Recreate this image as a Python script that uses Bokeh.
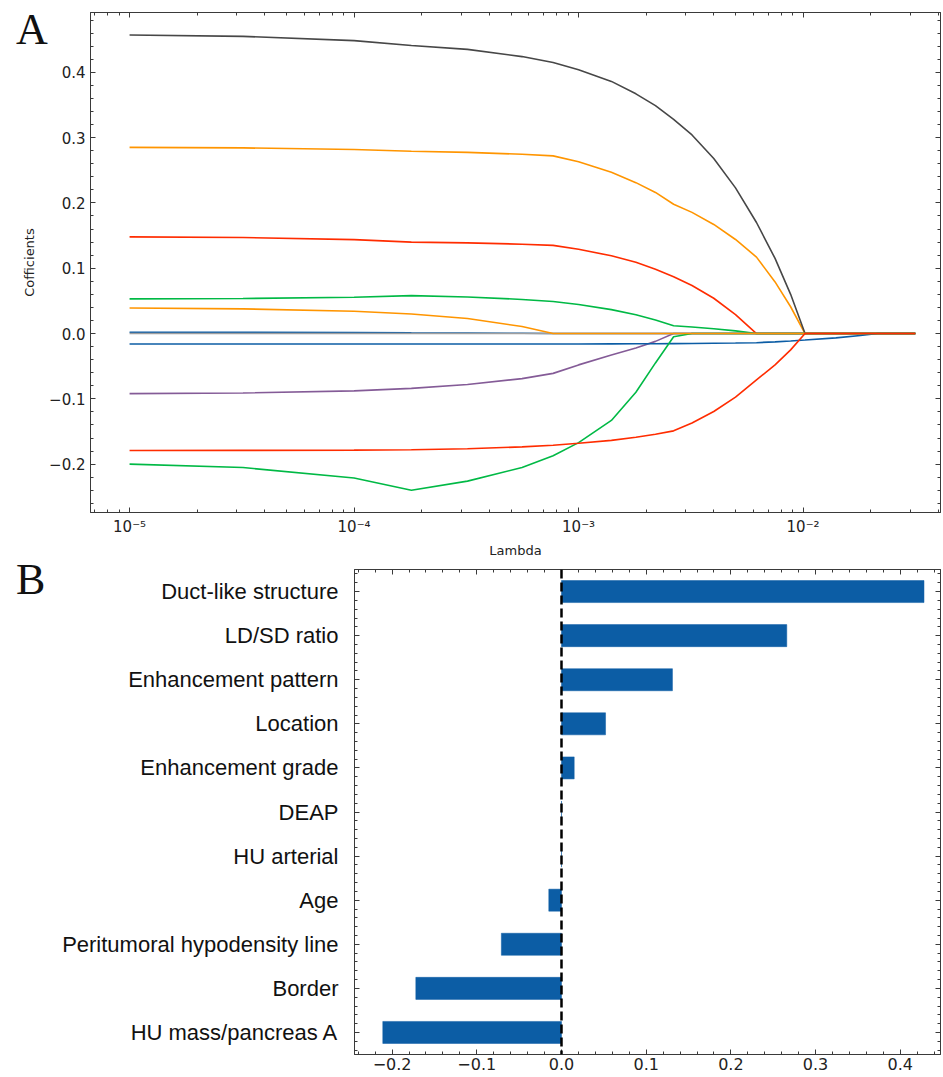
from bokeh.plotting import figure
from bokeh.models import Range1d, FixedTicker, LinearAxis, LogAxis, Span, Div, ColumnDataSource
from bokeh.embed import file_html
from bokeh.resources import INLINE

# ---------------- Data: LASSO path (panel A) ----------------
lambdas = [1e-5, 3.2e-5, 1e-4, 1.8e-4, 3.2e-4, 5.6e-4, 7.7e-4, 1e-3, 1.4e-3, 1.8e-3,
           2.2e-3, 2.65e-3, 3.2e-3, 4e-3, 5e-3, 6.2e-3, 7.5e-3, 8.8e-3, 1.02e-2,
           1.4e-2, 1.8e-2, 2.15e-2, 3.16e-2]

path_blue_1 = [0.002, 0.0019, 0.0015, 0.001, 0.0008, 0.0004, 0, 0, 0, 0, 0, 0, 0, 0, 0, 0, 0, 0, 0, 0, 0, 0, 0]
path_green_1 = [0.053, 0.0536, 0.0556, 0.058, 0.0559, 0.0522, 0.049, 0.0445, 0.0366, 0.0287, 0.0208, 0.012,
                0.0101, 0.0074, 0.0041, 0, 0, 0, 0, 0, 0, 0, 0]
path_orange_1 = [0.285, 0.2842, 0.2818, 0.279, 0.2773, 0.2745, 0.272, 0.263, 0.247, 0.231, 0.216, 0.198,
                 0.1855, 0.167, 0.144, 0.117, 0.079, 0.041, 0, 0, 0, 0, 0]
path_red_1 = [0.148, 0.147, 0.1438, 0.140, 0.1388, 0.1368, 0.135, 0.129, 0.119, 0.109, 0.0985, 0.087,
              0.0735, 0.054, 0.029, 0, 0, 0, 0, 0, 0, 0, 0]
path_purple = [-0.092, -0.091, -0.0878, -0.084, -0.078, -0.069, -0.061, -0.048, -0.033, -0.022, -0.012, 0,
               0, 0, 0, 0, 0, 0, 0, 0, 0, 0, 0]
path_darkgrey = [0.457, 0.455, 0.4485, 0.441, 0.435, 0.424, 0.415, 0.404, 0.386, 0.367, 0.349, 0.328,
                 0.304, 0.268, 0.223, 0.170, 0.115, 0.060, 0, 0, 0, 0, 0]
path_grey = [0, 0, 0, 0, 0, 0, 0, 0, 0, 0, 0, 0, 0, 0, 0, 0, 0, 0, 0, 0, 0, 0, 0]
path_blue_2 = [-0.016, -0.016, -0.016, -0.016, -0.016, -0.016, -0.016, -0.016, -0.0158, -0.0157, -0.0156,
               -0.0155, -0.0153, -0.0149, -0.0145, -0.014, -0.0127, -0.0114, -0.010, -0.0066, -0.0031, 0, 0]
path_green_2 = [-0.200, -0.2052, -0.2212, -0.240, -0.226, -0.205, -0.187, -0.167, -0.133, -0.090, -0.045,
                -0.005, 0, 0, 0, 0, 0, 0, 0, 0, 0, 0, 0]
path_orange_2 = [0.039, 0.0378, 0.0342, 0.030, 0.0229, 0.0107, 0, 0, 0, 0, 0, 0, 0, 0, 0, 0, 0, 0, 0, 0, 0, 0, 0]
path_red_2 = [-0.179, -0.1789, -0.1785, -0.178, -0.1763, -0.1735, -0.171, -0.168, -0.1636, -0.1589, -0.1543,
              -0.149, -0.1369, -0.1194, -0.0974, -0.071, -0.048, -0.025, 0, 0, 0, 0, 0]

paths = [path_blue_1, path_green_1, path_orange_1, path_red_1, path_purple,
         path_darkgrey, path_grey, path_blue_2, path_green_2, path_orange_2, path_red_2]
palette = ["#0C5DA5", "#00B945", "#FF9500", "#FF2C00", "#845B97", "#474747", "#9e9e9e"]

top_y_ticks = [-0.2, -0.1, 0.0, 0.1, 0.2, 0.3, 0.4]
top_y_labels = ["\u22120.2", "\u22120.1", "0.0", "0.1", "0.2", "0.3", "0.4"]
top_x_ticks = [1e-5, 1e-4, 1e-3, 1e-2]
top_x_labels = ["10\u207b\u2075", "10\u207b\u2074", "10\u207b\u00b3", "10\u207b\u00b2"]

# ---------------- Data: coefficients (panel B) ----------------
features = ["Duct-like structure", "LD/SD ratio", "Enhancement pattern", "Location",
            "Enhancement grade", "DEAP", "HU arterial", "Age",
            "Peritumoral hypodensity line", "Border", "HU mass/pancreas A"]
coefs = [0.428, 0.266, 0.131, 0.052, 0.015, 0.0, 0.0, -0.015, -0.071, -0.172, -0.211]

bot_x_ticks = [-0.2, -0.1, 0.0, 0.1, 0.2, 0.3, 0.4]
bot_x_labels = ["\u22120.2", "\u22120.1", "0.0", "0.1", "0.2", "0.3", "0.4"]

panel_letters = ["A", "B"]

AX = "#3a3a3a"
TICKFONT = "DejaVu Sans"


def style_axis(ax, ticker, overrides=None, font_size="15px", show_labels=True):
    ax.ticker = ticker
    ax.axis_line_color = AX
    ax.axis_line_width = 1
    ax.major_tick_line_color = AX
    ax.minor_tick_line_color = AX
    ax.major_tick_in = 5
    ax.major_tick_out = 0
    ax.minor_tick_in = 3
    ax.minor_tick_out = 0
    if show_labels:
        if overrides is not None:
            ax.major_label_overrides = overrides
        ax.major_label_text_font = TICKFONT
        ax.major_label_text_font_size = font_size
        ax.major_label_text_color = "#222222"
        ax.major_label_standoff = 5
    else:
        ax.major_label_text_font_size = "0px"
        ax.major_label_standoff = 0
        ax.major_label_text_alpha = 0


# ---------------- Panel A ----------------
p1 = figure(width=943, height=560, x_axis_type="log",
            x_range=Range1d(10 ** -5.174, 10 ** -1.388), y_range=Range1d(-0.274, 0.4915),
            output_backend="svg", toolbar_location=None,
            min_border_left=90, min_border_right=3, min_border_top=12, min_border_bottom=45)
p1.grid.visible = False
p1.outline_line_color = AX
p1.background_fill_color = "white"
p1.border_fill_color = "white"

for i, ys in enumerate(paths):
    src = ColumnDataSource(dict(x=lambdas, y=ys))
    p1.line("x", "y", source=src, line_color=palette[i % len(palette)], line_width=1.6)

log_minor = [k * 10.0 ** e for e in range(-6, 0) for k in range(2, 10)]
lin_minor = [round(-0.3 + 0.02 * i, 2) for i in range(0, 45)]

style_axis(p1.xaxis[0], FixedTicker(ticks=top_x_ticks, minor_ticks=log_minor),
           dict(zip(top_x_ticks, top_x_labels)), "15px")
style_axis(p1.yaxis[0], FixedTicker(ticks=top_y_ticks, minor_ticks=lin_minor),
           dict(zip(top_y_ticks, top_y_labels)), "15px")
p1.xaxis[0].axis_label = "Lambda"
p1.yaxis[0].axis_label = "Cofficients"
for ax in (p1.xaxis[0], p1.yaxis[0]):
    ax.axis_label_text_font = TICKFONT
    ax.axis_label_text_font_size = "13px"
    ax.axis_label_text_font_style = "normal"
    ax.axis_label_text_color = "#222222"
p1.xaxis[0].axis_label_standoff = 4
p1.yaxis[0].axis_label_standoff = 9

top_ax = LogAxis()
style_axis(top_ax, FixedTicker(ticks=top_x_ticks, minor_ticks=log_minor), show_labels=False)
p1.add_layout(top_ax, "above")
right_ax = LinearAxis()
style_axis(right_ax, FixedTicker(ticks=top_y_ticks, minor_ticks=lin_minor), show_labels=False)
p1.add_layout(right_ax, "right")

# ---------------- Panel B ----------------
n = len(features)
ypos = [float(n - 1 - i) for i in range(n)]

p2 = figure(width=943, height=515,
            x_range=Range1d(-0.2444, 0.4475), y_range=Range1d(-0.5, n - 0.5),
            output_backend="svg", toolbar_location=None,
            min_border_left=354, min_border_right=3, min_border_top=9, min_border_bottom=21)
p2.grid.visible = False
p2.outline_line_color = AX
p2.background_fill_color = "white"
p2.border_fill_color = "white"

src2 = ColumnDataSource(dict(y=ypos, right=coefs, left=[0.0] * n))
p2.hbar(y="y", left="left", right="right", height=0.5, source=src2,
        fill_color="#0C5DA5", line_color="#0C5DA5", line_width=0.5)
p2.add_layout(Span(location=0.0, dimension="height", line_color="black",
                   line_width=2.5, line_dash="9 4"))

bx_minor = [round(-0.3 + 0.02 * i, 2) for i in range(0, 40)]
cat_minor = [round(-0.6 + 0.2 * i, 2) for i in range(0, 60)]

style_axis(p2.xaxis[0], FixedTicker(ticks=bot_x_ticks, minor_ticks=bx_minor),
           dict(zip(bot_x_ticks, bot_x_labels)), "16px")
p2.xaxis[0].major_label_standoff = 3
style_axis(p2.yaxis[0], FixedTicker(ticks=ypos, minor_ticks=cat_minor),
           dict(zip(ypos, features)), "22px")
p2.yaxis[0].major_label_text_font = "Liberation Sans"
p2.yaxis[0].major_label_text_color = "#111111"
p2.yaxis[0].major_label_standoff = 16

top_ax2 = LinearAxis()
style_axis(top_ax2, FixedTicker(ticks=bot_x_ticks, minor_ticks=bx_minor), show_labels=False)
p2.add_layout(top_ax2, "above")
right_ax2 = LinearAxis()
style_axis(right_ax2, FixedTicker(ticks=ypos, minor_ticks=cat_minor), show_labels=False)
p2.add_layout(right_ax2, "right")

# ---------------- Panel letters (absolutely positioned text) ----------------
letter_divs = []
for letter, top in zip(panel_letters, [3, 553]):
    letter_divs.append(Div(
        text='<span style="font-family: \'Liberation Serif\'; font-size: 44px; '
             'line-height: 44px; color: #111111;">' + letter + '</span>',
        styles={"position": "absolute", "left": "11px", "top": f"{top}px", "z-index": "10"}))

open("out.html", "w").write(file_html([p1, p2] + letter_divs, INLINE))
